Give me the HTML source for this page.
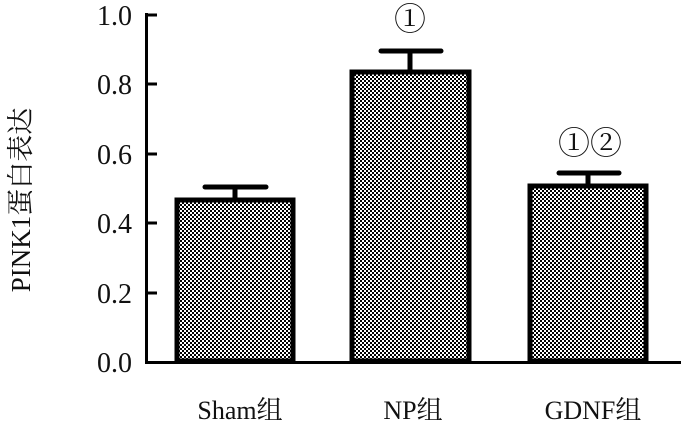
<!DOCTYPE html>
<html><head><meta charset="utf-8"><style>body{margin:0;background:#fff}</style></head><body>
<svg width="681" height="433" xmlns="http://www.w3.org/2000/svg" font-family="'Liberation Serif','Noto Serif CJK SC',serif">
<defs><pattern id="p" width="4" height="4" patternUnits="userSpaceOnUse"><rect width="4" height="4" fill="#fff"/><rect width="2" height="2" fill="#000"/><rect x="2" y="2" width="2" height="2" fill="#000"/></pattern></defs>
<g stroke="#000" stroke-width="3" fill="none">
<line x1="146.5" y1="13" x2="146.5" y2="364"/>
<line x1="145" y1="362.5" x2="681" y2="362.5"/>
<line x1="146" y1="15" x2="157" y2="15"/><line x1="146" y1="84" x2="157" y2="84"/><line x1="146" y1="154" x2="157" y2="154"/><line x1="146" y1="223" x2="157" y2="223"/><line x1="146" y1="293" x2="157" y2="293"/>
</g>
<g stroke="#000" stroke-width="5">
<rect x="177" y="200" width="116" height="161" fill="url(#p)"/>
<rect x="352" y="72" width="117" height="289" fill="url(#p)"/>
<rect x="530" y="186" width="116" height="175" fill="url(#p)"/>
<line x1="235" y1="198" x2="235" y2="187"/><line x1="205" y1="187" x2="266" y2="187" stroke-linecap="round"/>
<line x1="410" y1="70" x2="410" y2="51"/><line x1="381" y1="51" x2="441" y2="51" stroke-linecap="round"/>
<line x1="588" y1="184" x2="588" y2="173"/><line x1="559" y1="173" x2="619" y2="173" stroke-linecap="round"/>
</g>
<g font-size="28" text-anchor="end" fill="#111">
<text x="132" y="25">1.0</text><text x="132" y="94">0.8</text><text x="132" y="164">0.6</text><text x="132" y="233">0.4</text><text x="132" y="303">0.2</text><text x="132" y="372">0.0</text>
</g>
<g font-size="26" text-anchor="middle" fill="#111">
<text x="240" y="419">Sham组</text><text x="413" y="419">NP组</text><text x="593" y="419">GDNF组</text>
<text x="410" y="30" font-size="32">①</text><text x="590" y="154" font-size="32">①②</text>
</g>
<text transform="translate(30,200) rotate(-90)" font-size="27" text-anchor="middle" fill="#111">PINK1蛋白表达</text>
</svg>
</body></html>
